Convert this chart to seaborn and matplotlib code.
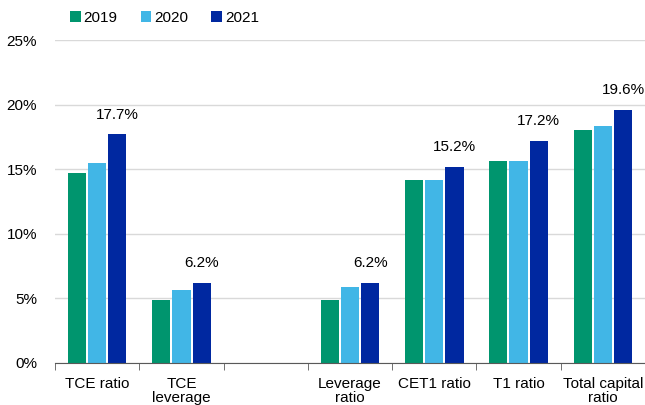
import pandas as pd
import seaborn as sns
import matplotlib.pyplot as plt
from matplotlib.ticker import FuncFormatter, FixedLocator

categories = ["TCE ratio", "TCE\nleverage", " ", "Leverage\nratio",
              "CET1 ratio", "T1 ratio", "Total capital\nratio"]
years = ["2019", "2020", "2021"]
vals_2019 = [14.7, 4.9, None, 4.9, 14.2, 15.65, 18.0]
vals_2020 = [15.5, 5.65, None, 5.85, 14.2, 15.65, 18.35]
vals_2021 = [17.7, 6.2, None, 6.2, 15.2, 17.2, 19.6]
colors = ["#00956E", "#41B6E6", "#0028A0"]

rows = []
for year, vals in zip(years, [vals_2019, vals_2020, vals_2021]):
    for cat, v in zip(categories, vals):
        if v is not None:
            rows.append({"category": cat, "year": year, "value": v})
df = pd.DataFrame(rows)

plt.rcParams['font.family'] = ['Liberation Sans', 'DejaVu Sans']
fig = plt.figure(figsize=(6.45, 4.05), dpi=100)
ax = fig.add_axes([55 / 645, 1 - 363 / 405, 590 / 645, 323 / 405])

sns.barplot(data=df, x="category", y="value", hue="year", order=categories,
            hue_order=years, palette=colors, width=0.72, gap=0.1,
            saturation=1, ax=ax, legend=True)

ax.set_ylim(0, 25)
ax.set_xlim(-0.5, len(categories) - 0.5)
ax.set_yticks([0, 5, 10, 15, 20, 25])
ax.yaxis.set_major_formatter(FuncFormatter(lambda v, p: f"{v:.0f}%"))
ax.grid(axis="y", color="#D9D9D9", linewidth=1)
ax.set_axisbelow(True)
ax.set_xlabel("")
ax.set_ylabel("")
for s in ["top", "right", "left"]:
    ax.spines[s].set_visible(False)
ax.spines["bottom"].set_color("#595959")
ax.tick_params(axis="y", length=0, labelsize=11, pad=13)
ax.tick_params(axis="x", which="major", length=0, labelsize=11, pad=10)
ax.xaxis.set_minor_locator(FixedLocator([i - 0.5 for i in range(len(categories) + 1)]))
ax.tick_params(axis="x", which="minor", length=5, color="#595959")
for lbl in ax.get_xticklabels():
    lbl.set_linespacing(1.0)

# labels on 2021 bars
cont = ax.containers[2]
labels = [f"{v:.1f}%" for v in df[df.year == "2021"]["value"]]
ax.bar_label(cont, labels=labels, padding=9, fontsize=11)

ax.legend(loc="upper left", bbox_to_anchor=(0.015, 1.11), ncol=3, frameon=False,
          fontsize=11, handlelength=0.7, handleheight=0.7, handletextpad=0.2,
          columnspacing=1.5, borderaxespad=0)

plt.savefig("out.png", dpi=100)
plt.close()
